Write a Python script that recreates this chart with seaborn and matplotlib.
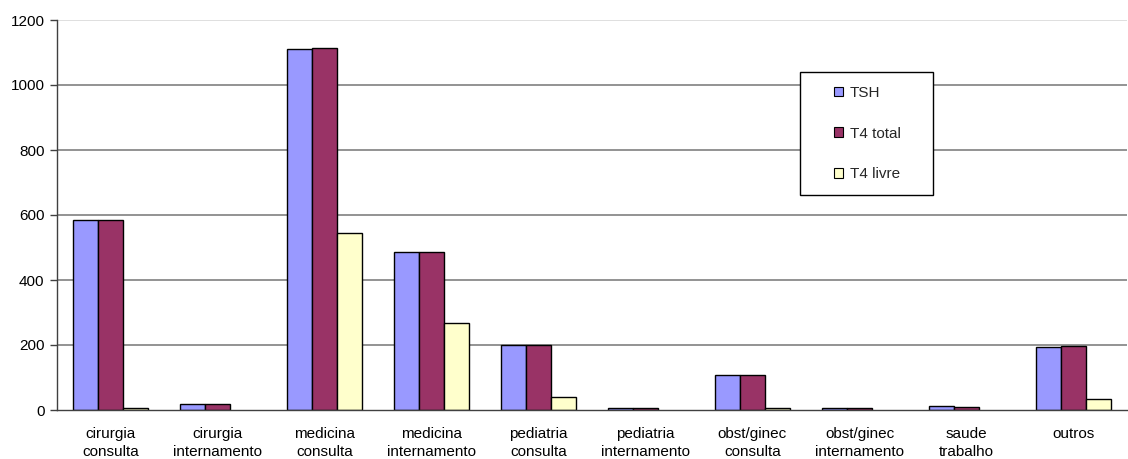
import matplotlib
matplotlib.use("Agg")
import matplotlib.pyplot as plt
from matplotlib.patches import Patch, Rectangle
import seaborn as sns
import pandas as pd
import numpy as np

categories = [
    "cirurgia\nconsulta", "cirurgia\ninternamento", "medicina\nconsulta",
    "medicina\ninternamento", "pediatria\nconsulta", "pediatria\ninternamento",
    "obst/ginec\nconsulta", "obst/ginec\ninternamento", "saude\ntrabalho", "outros",
]
series_names = ["TSH", "T4 total", "T4 livre"]
tsh = [584, 18, 1111, 485, 200, 5, 108, 5, 11, 193]
t4_total = [584, 18, 1115, 485, 200, 5, 108, 5, 9, 197]
t4_livre = [6, 0, 545, 269, 40, 0, 5, 0, 0, 33]
colors = ["#9999FF", "#993366", "#FFFFCC"]
yticks = [0, 200, 400, 600, 800, 1000, 1200]

df = pd.DataFrame({
    "categoria": categories * 3,
    "serie": [s for s in series_names for _ in categories],
    "valor": tsh + t4_total + t4_livre,
})

sns.set_theme(style="white")
plt.rcParams["font.family"] = ["Liberation Sans", "DejaVu Sans"]
FS = 11

W, H = 1128, 459
fig = plt.figure(figsize=(W / 100, H / 100), dpi=100)
ax = fig.add_axes([57 / W, 1 - 410 / H, 1070 / W, 390 / H])

sns.barplot(data=df, x="categoria", y="valor", hue="serie", order=categories,
            hue_order=series_names, palette=colors, saturation=1, width=0.7,
            gap=0, edgecolor="black", linewidth=1.0, ax=ax, legend=False,
            zorder=2)

# zero-valued bars leave no outline on the baseline
for bar in ax.patches:
    if bar.get_height() == 0:
        bar.set_linewidth(0)

ax.set_xlim(-0.5, len(categories) - 0.5)
ax.set_ylim(0, 1200)
ax.set_yticks(yticks)
ax.set_yticklabels([str(v) for v in yticks], fontsize=FS, color="black")
for v in yticks[1:]:
    ax.axhline(v, color="#808080" if v < 1200 else "#d9d9d9", lw=1.2, zorder=0)

ax.set_xticks(range(len(categories)))
ax.set_xticklabels(categories, fontsize=FS, color="black", linespacing=1.4)
ax.tick_params(axis="x", length=0, pad=12)
ax.set_xticks(np.arange(-0.5, len(categories) + 0.5, 1), minor=True)
ax.tick_params(axis="x", which="minor", length=4, width=1, color="#404040",
               direction="out")
ax.tick_params(axis="y", length=5, width=1, color="#404040", direction="out",
               left=True, pad=4)
ax.set_xlabel("")
ax.set_ylabel("")

for side in ["top", "right"]:
    ax.spines[side].set_visible(False)
for side in ["left", "bottom"]:
    ax.spines[side].set_color("#404040")
    ax.spines[side].set_linewidth(1.0)

# legend box drawn as its own frame, entries placed inside it
def ax_x(px):
    return (px - 57) / 1070

def ax_y(py):
    return (410 - py) / 390

box = Rectangle((ax_x(800), ax_y(195)), 133 / 1070, 123 / 390,
                transform=ax.transAxes, facecolor="white", edgecolor="black",
                linewidth=1.0, zorder=4)
ax.add_patch(box)

handles = [Patch(facecolor=c, edgecolor="black", linewidth=0.8) for c in colors]
leg = ax.legend(handles, series_names, loc="upper left",
                bbox_to_anchor=(ax_x(834), ax_y(86)),
                frameon=False, fontsize=FS, handlelength=0.6,
                handleheight=0.6, handletextpad=0.45, labelspacing=1.75,
                borderpad=0, borderaxespad=0)
leg.set_zorder(5)

fig.savefig("out.png", dpi=100)
